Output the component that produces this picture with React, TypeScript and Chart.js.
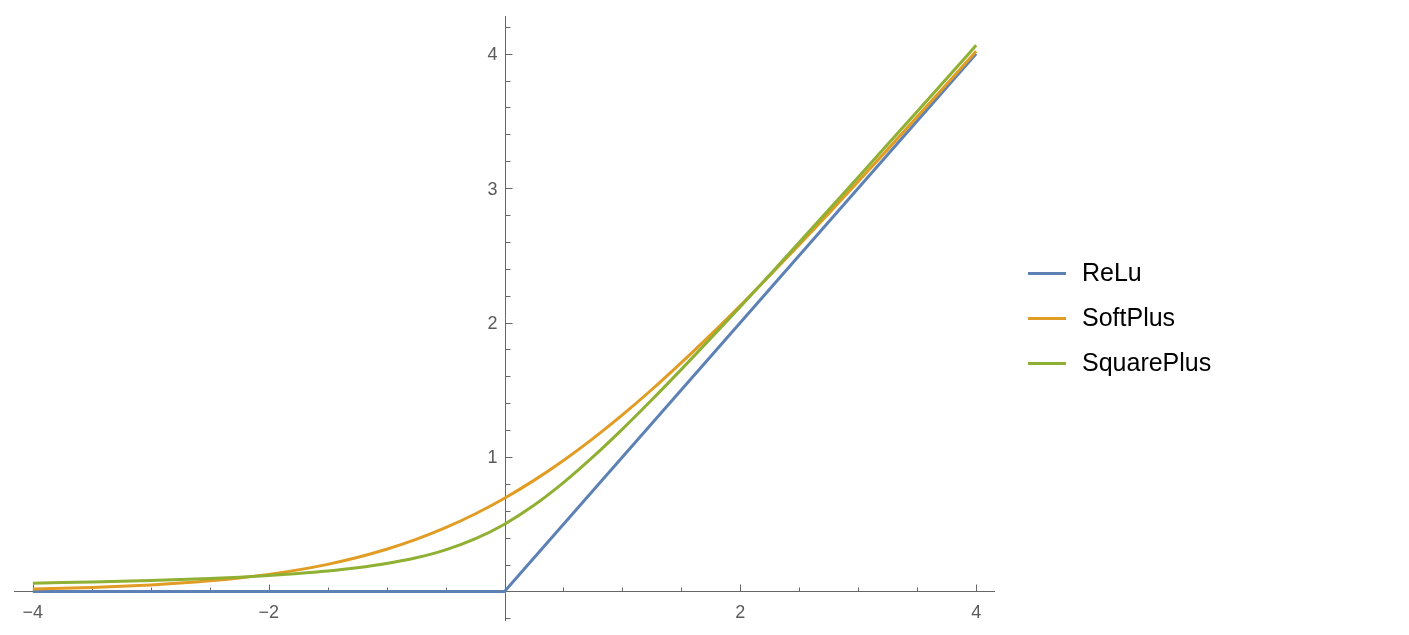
import React, { useEffect, useRef } from "react";
import { Chart, registerables } from "chart.js";

Chart.register(...registerables);

const seriesNames = ["ReLu", "SoftPlus", "SquarePlus"];
const seriesColors = ["#5e81b5", "#e19c24", "#8fb032"];

const reluX = [-4, 0, 4];
const reluY = [0, 0, 4];

const curveX = [
  -4, -3.75, -3.5, -3.25, -3, -2.75, -2.5, -2.25, -2, -1.75, -1.5, -1.25, -1,
  -0.75, -0.5, -0.25, 0, 0.25, 0.5, 0.75, 1, 1.25, 1.5, 1.75, 2, 2.25, 2.5,
  2.75, 3, 3.25, 3.5, 3.75, 4,
];
const softPlusY = [
  0.0181, 0.0232, 0.0298, 0.038, 0.0486, 0.0619, 0.0789, 0.1002, 0.1269,
  0.1602, 0.2014, 0.2519, 0.3133, 0.3869, 0.4741, 0.5759, 0.6931, 0.8259,
  0.9741, 1.1369, 1.3133, 1.5019, 1.7014, 1.9102, 2.1269, 2.3502, 2.5789,
  2.8119, 3.0486, 3.288, 3.5298, 3.7732, 4.0181,
];
const squarePlusY = [
  0.0616, 0.0655, 0.07, 0.0752, 0.0811, 0.0881, 0.0963, 0.1061, 0.118, 0.1328,
  0.1514, 0.1754, 0.2071, 0.25, 0.309, 0.3904, 0.5, 0.6404, 0.809, 1.0, 1.2071,
  1.4254, 1.6514, 1.8828, 2.118, 2.3561, 2.5963, 2.8381, 3.0811, 3.3252, 3.57,
  3.8155, 4.0616,
];

const xMajorTicks = [-4, -2, 2, 4];
const xMinorTicks = [-3.5, -3, -2.5, -1.5, -1, -0.5, 0.5, 1, 1.5, 2.5, 3, 3.5];
const yMajorTicks = [1, 2, 3, 4];
const yMinorTicks = [
  -0.2, 0.2, 0.4, 0.6, 0.8, 1.2, 1.4, 1.6, 1.8, 2.2, 2.4, 2.6, 2.8, 3.2, 3.4,
  3.6, 3.8, 4.2,
];

const fmt = (v: number) => (v < 0 ? "\u2212" + Math.abs(v) : String(v));

const axesPlugin = {
  id: "mmaAxes",
  beforeDatasetsDraw(chart: any) {
    const ctx = chart.ctx;
    const xs = chart.scales.x;
    const ys = chart.scales.y;
    const area = chart.chartArea;
    const x0 = xs.getPixelForValue(0);
    const y0 = ys.getPixelForValue(0);
    ctx.save();
    ctx.strokeStyle = "#666666";
    ctx.lineWidth = 1;
    ctx.beginPath();
    ctx.moveTo(area.left, Math.round(y0) + 0.5);
    ctx.lineTo(area.right, Math.round(y0) + 0.5);
    ctx.moveTo(Math.round(x0) + 0.5, area.top);
    ctx.lineTo(Math.round(x0) + 0.5, area.bottom);
    const yy = Math.round(y0) + 0.5;
    xMajorTicks.forEach((v) => {
      const px = Math.round(xs.getPixelForValue(v)) + 0.5;
      ctx.moveTo(px, yy);
      ctx.lineTo(px, yy - 7);
    });
    xMinorTicks.forEach((v) => {
      const px = Math.round(xs.getPixelForValue(v)) + 0.5;
      ctx.moveTo(px, yy);
      ctx.lineTo(px, yy - 4);
    });
    const xx = Math.round(x0) + 0.5;
    yMajorTicks.forEach((v) => {
      const py = Math.round(ys.getPixelForValue(v)) + 0.5;
      ctx.moveTo(xx, py);
      ctx.lineTo(xx + 7, py);
    });
    yMinorTicks.forEach((v) => {
      const py = Math.round(ys.getPixelForValue(v)) + 0.5;
      ctx.moveTo(xx, py);
      ctx.lineTo(xx + 5, py);
    });
    ctx.stroke();

    ctx.fillStyle = "#5a5a5a";
    ctx.font = "18px 'Liberation Sans', Arial, sans-serif";
    ctx.textBaseline = "alphabetic";
    ctx.textAlign = "center";
    xMajorTicks.forEach((v) => {
      ctx.fillText(fmt(v), xs.getPixelForValue(v), y0 + 26.5);
    });
    ctx.textAlign = "right";
    yMajorTicks.forEach((v) => {
      ctx.fillText(fmt(v), x0 - 7, ys.getPixelForValue(v) + 6.5);
    });
    ctx.restore();
  },
  afterDraw(chart: any) {
    const ctx = chart.ctx;
    ctx.save();
    ctx.font = "25px 'Liberation Sans', Arial, sans-serif";
    ctx.textBaseline = "alphabetic";
    ctx.textAlign = "left";
    chart.data.datasets.forEach((ds: any, i: number) => {
      const base = 281 + i * 45;
      ctx.strokeStyle = ds.borderColor;
      ctx.lineWidth = 3;
      ctx.beginPath();
      ctx.moveTo(1028, base - 7.5);
      ctx.lineTo(1066, base - 7.5);
      ctx.stroke();
      ctx.fillStyle = "#000000";
      ctx.fillText(ds.label, 1082, base);
    });
    ctx.restore();
  },
};

export default function App() {
  const ref = useRef<HTMLCanvasElement | null>(null);
  useEffect(() => {
    if (!ref.current) return;
    const chart = new Chart(ref.current, {
      type: "line",
      data: {
        datasets: [
          {
            label: seriesNames[0],
            data: reluX.map((x, i) => ({ x, y: reluY[i] })),
            borderColor: seriesColors[0],
            borderWidth: 3,
            pointRadius: 0,
            tension: 0,
            order: 3,
          },
          {
            label: seriesNames[1],
            data: curveX.map((x, i) => ({ x, y: softPlusY[i] })),
            borderColor: seriesColors[1],
            borderWidth: 3,
            pointRadius: 0,
            cubicInterpolationMode: "monotone",
            order: 2,
          },
          {
            label: seriesNames[2],
            data: curveX.map((x, i) => ({ x, y: squarePlusY[i] })),
            borderColor: seriesColors[2],
            borderWidth: 3,
            pointRadius: 0,
            cubicInterpolationMode: "monotone",
            order: 1,
          },
        ],
      },
      options: {
        responsive: false,
        animation: false,
        devicePixelRatio: 1,
        layout: { padding: { left: 14, right: 414, top: 16, bottom: 14 } },
        scales: {
          x: { type: "linear", min: -4.16, max: 4.16, display: false },
          y: { type: "linear", min: -0.22, max: 4.28, display: false },
        },
        plugins: {
          legend: { display: false },
          tooltip: { enabled: false },
        },
      },
      plugins: [axesPlugin],
    } as any);
    return () => chart.destroy();
  }, []);
  return (
    <div style={{ position: "fixed", left: 0, top: 0, width: 1409, height: 635, background: "#fff" }}>
      <canvas ref={ref} width={1409} height={635} style={{ display: "block" }} />
    </div>
  );
}
